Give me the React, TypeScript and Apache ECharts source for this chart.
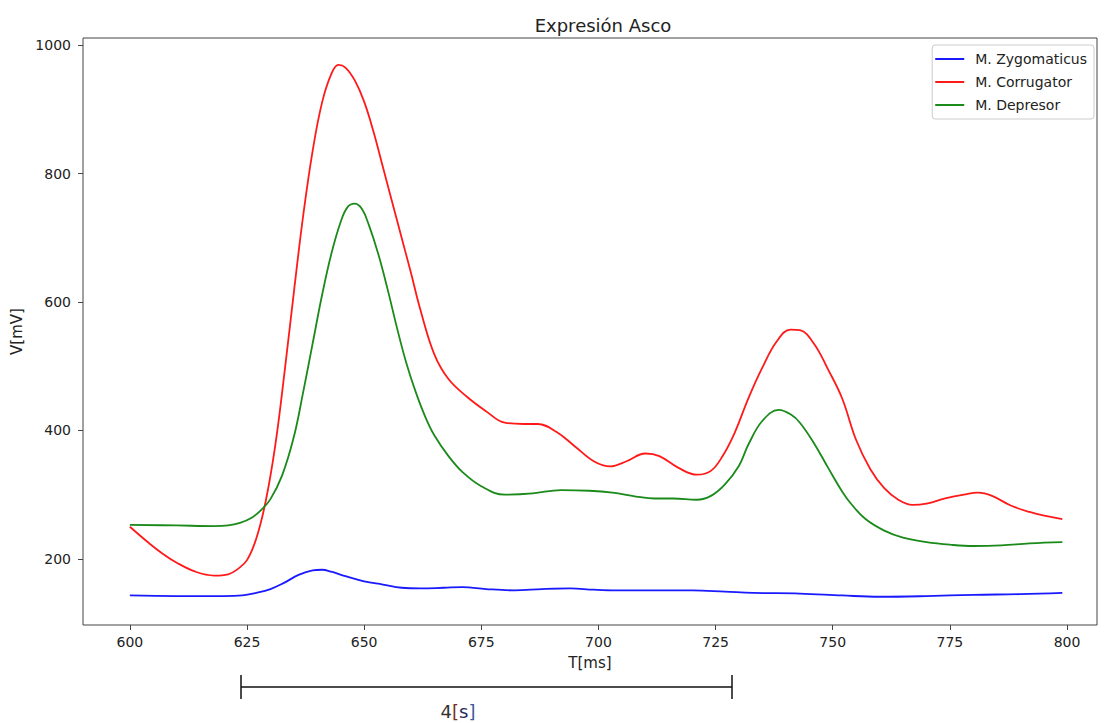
import React, { useEffect, useRef } from "react";
import * as echarts from "echarts";

// Time samples (ms) and amplitudes (mV) for each muscle channel
const zygoT = [600, 610, 620, 624, 627, 630, 633, 636, 639, 641, 643, 646, 650, 654, 658, 662, 667, 671, 676, 682, 688, 694, 699, 704, 712, 720, 727, 733, 743, 752, 760, 770, 780, 790, 799];
const zygoV = [143, 142, 142, 143, 147, 153, 163, 175, 182, 183, 180, 173, 165, 160, 155, 154, 155, 156, 153, 151, 153, 154, 152, 151, 151, 151, 149, 147, 146, 143, 141, 142, 144, 145, 147];

const corrT = [600, 604, 607, 610, 614, 618, 621, 623, 625, 627, 629, 631, 633, 635, 637, 639, 641, 643, 644.5, 646, 648, 650, 652, 654, 656, 658, 660, 662, 665, 668, 672, 676, 680, 684, 687, 691, 695, 699, 702.5, 706, 710, 713, 717, 721, 724, 726.5, 729, 732, 735, 738, 741, 743, 746, 749, 752, 755, 758, 761, 764, 767, 770, 774, 778, 781, 784, 788, 792, 796, 799];
const corrV = [250, 225, 208, 194, 180, 174, 176, 184, 198, 232, 290, 375, 490, 615, 735, 835, 910, 955, 969, 965, 945, 912, 865, 810, 755, 700, 645, 588, 518, 480, 452, 430, 412, 410, 410, 398, 375, 352, 344, 352, 364, 360, 342, 331, 337, 360, 395, 450, 498, 538, 557, 556, 535, 495, 450, 385, 340, 310, 292, 284, 286, 294, 300, 303, 298, 283, 273, 266, 262];

const depT = [600, 610, 618, 621, 623.5, 626, 628, 630, 632.5, 635, 637, 639, 641, 643, 645, 646.5, 648, 649.5, 651, 653, 655, 657, 659, 661, 663, 665, 668, 671, 675, 680, 686, 692, 698, 703, 708, 712, 716, 721, 724, 727, 730, 732, 735, 738.5, 741, 743, 746, 749, 752, 754, 757, 761, 765, 770, 775, 780, 786, 792, 799];
const depV = [253, 252, 251, 252, 256, 264, 276, 293, 330, 390, 460, 535, 610, 675, 725, 748, 753, 745, 720, 675, 620, 560, 505, 460, 422, 392, 360, 335, 313, 300, 302, 307, 306, 303, 297, 294, 294, 292, 298, 316, 345, 378, 415, 432, 425, 412, 380, 342, 305, 285, 262, 244, 233, 226, 222, 220, 221, 224, 226];

const seriesNames = ["M. Zygomaticus", "M. Corrugator", "M. Depresor"];
const seriesColors = ["#1a1aff", "#ff1a1a", "#1a8a1a"];

const xTicks = [600, 625, 650, 675, 700, 725, 750, 775, 800];
const yTicks = [200, 400, 600, 800, 1000];

const pairs = (t: number[], v: number[]) => t.map((x, i) => [x, v[i]]);

export default function App() {
  const ref = useRef<HTMLDivElement>(null);

  useEffect(() => {
    if (!ref.current) return;
    const chart = echarts.init(ref.current, null, { renderer: "svg" });
    const font = "DejaVu Sans";
    const dataSets = [pairs(zygoT, zygoV), pairs(corrT, corrV), pairs(depT, depV)];

    chart.setOption({
      animation: false,
      backgroundColor: "#ffffff",
      textStyle: { fontFamily: font },
      title: {
        text: "Expresión Asco",
        left: 598,
        textAlign: "center",
        top: 11,
        textStyle: { fontFamily: font, fontSize: 18, fontWeight: "normal", color: "#222" },
      },
      legend: {
        right: 10,
        top: 45,
        orient: "vertical",
        padding: [7, 7, 7, 3],
        itemGap: 9,
        itemWidth: 29,
        itemHeight: 2,
        icon: "rect",
        backgroundColor: "#fff",
        borderColor: "#cccccc",
        borderWidth: 1,
        borderRadius: 3,
        textStyle: { fontFamily: font, fontSize: 14, color: "#222", padding: [0, 0, 0, 6] },
        data: seriesNames,
      },
      grid: {
        left: 83,
        right: 7,
        top: 38,
        bottom: 98,
        show: true,
        borderColor: "#444",
        borderWidth: 1,
        backgroundColor: "transparent",
      },
      xAxis: {
        type: "value",
        min: 590,
        max: 806.4,
        name: "T[ms]",
        nameLocation: "middle",
        nameGap: 30,
        nameTextStyle: { fontFamily: font, fontSize: 15, color: "#222" },
        axisLine: { show: false },
        splitLine: { show: false },
        axisTick: { show: true, length: 5, customValues: xTicks, lineStyle: { color: "#444" } },
        axisLabel: {
          customValues: xTicks,
          margin: 10,
          fontFamily: font,
          fontSize: 14,
          color: "#222",
          formatter: (v: number) => String(v),
        },
      },
      yAxis: {
        type: "value",
        min: 97,
        max: 1011,
        name: "V[mV]",
        nameLocation: "middle",
        nameRotate: 90,
        nameGap: 57,
        nameTextStyle: { fontFamily: font, fontSize: 15, color: "#222" },
        axisLine: { show: false },
        splitLine: { show: false },
        axisTick: { show: true, length: 5, customValues: yTicks, lineStyle: { color: "#444" } },
        axisLabel: {
          customValues: yTicks,
          margin: 12,
          fontFamily: font,
          fontSize: 14,
          color: "#222",
          formatter: (v: number) => String(v),
        },
      },
      series: seriesNames.map((name, i) => ({
        name,
        type: "line",
        data: dataSets[i],
        smooth: 0.4,
        showSymbol: false,
        symbol: "none",
        lineStyle: { color: seriesColors[i], width: 1.8 },
        itemStyle: { color: seriesColors[i] },
      })),
      graphic: [
        {
          type: "line",
          shape: { x1: 241, y1: 687, x2: 732, y2: 687 },
          style: { stroke: "#111", lineWidth: 1.5 },
        },
        {
          type: "line",
          shape: { x1: 241, y1: 675, x2: 241, y2: 699 },
          style: { stroke: "#111", lineWidth: 1.5 },
        },
        {
          type: "line",
          shape: { x1: 732, y1: 675, x2: 732, y2: 699 },
          style: { stroke: "#111", lineWidth: 1.5 },
        },
        {
          type: "text",
          x: 458,
          y: 711,
          style: {
            text: "{a|4}{b|[}{c|s}{d|]}",
            align: "center",
            verticalAlign: "middle",
            fontFamily: font,
            fontSize: 18,
            rich: {
              a: { fontFamily: font, fontSize: 18, fill: "#333" },
              b: { fontFamily: font, fontSize: 18, fill: "#7a3020" },
              c: { fontFamily: font, fontSize: 18, fill: "#2a2a60" },
              d: { fontFamily: font, fontSize: 18, fill: "#3a5aa0" },
            },
          },
        },
      ],
    });

    return () => chart.dispose();
  }, []);

  return (
    <div
      ref={ref}
      style={{ position: "fixed", left: 0, top: 0, width: 1104, height: 723, background: "#fff" }}
    />
  );
}
